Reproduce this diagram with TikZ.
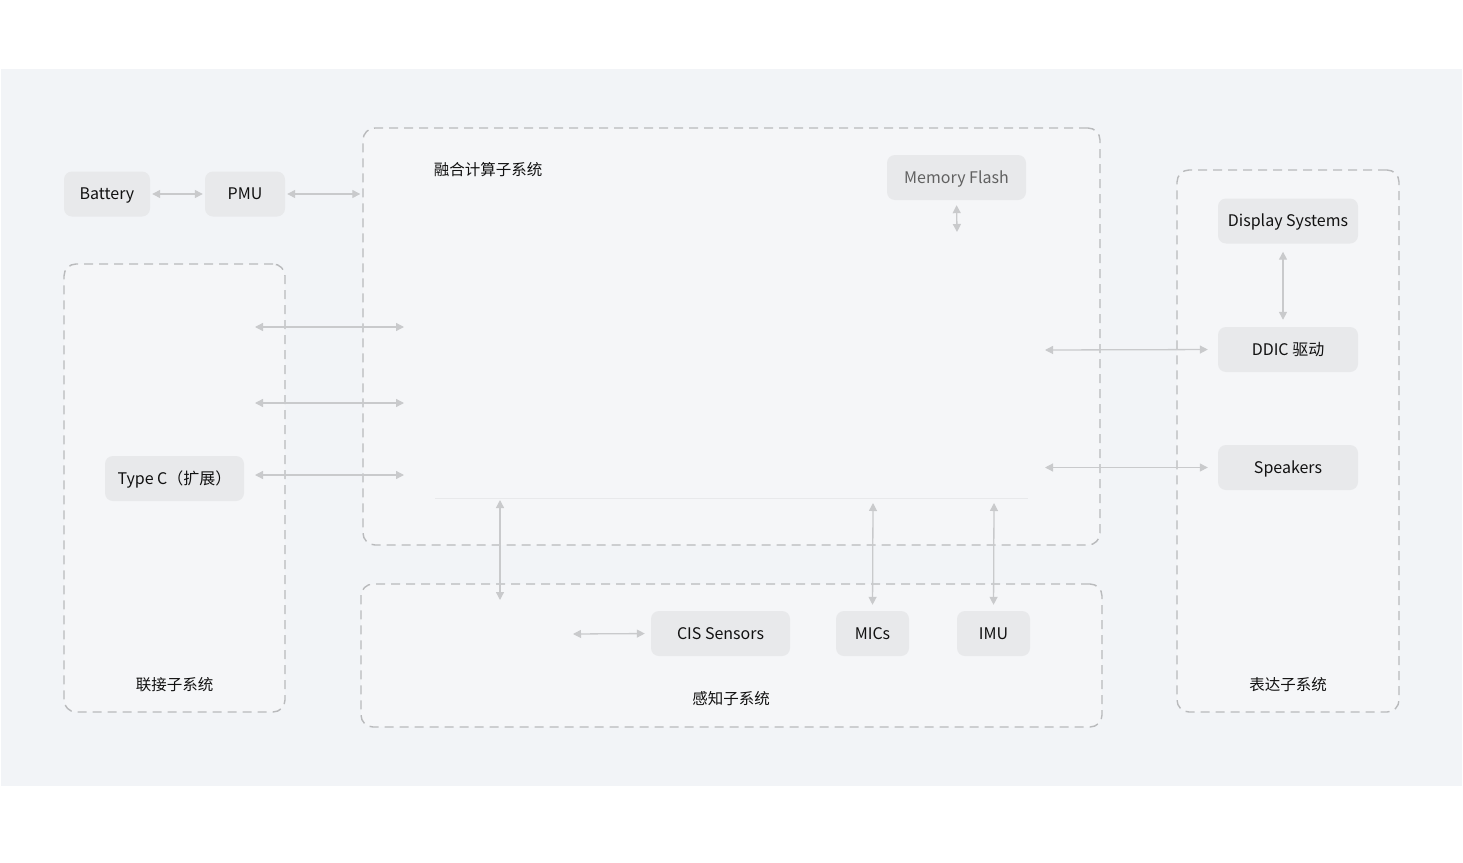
\documentclass[tikz,border=0pt]{standalone}
\usepackage{fontspec}
\setmainfont{Noto Sans CJK SC}
\usetikzlibrary{arrows.meta}
\definecolor{bgfill}{HTML}{F2F4F7}
\definecolor{groupfill}{HTML}{F5F6F8}
\definecolor{dashcol}{HTML}{B9BABC}
\definecolor{blockfill}{HTML}{E8E9EB}
\definecolor{arrcol}{HTML}{C9CACC}
\definecolor{txt}{HTML}{111111}
\tikzset{
  block/.style={fill=blockfill, rounded corners=8pt, minimum height=45pt, inner sep=0pt,
    text height=11.5pt, text depth=0pt, text=txt, font=\fontsize{16pt}{19pt}\selectfont},
  group/.style={draw=dashcol, fill=groupfill, dash pattern=on 9pt off 6pt, line width=1.4pt,
    rounded corners=12pt, inner sep=0pt},
  grouptitle/.style={text=txt, text height=11.5pt, text depth=0pt, inner sep=0pt,
    font=\fontsize{15.5pt}{19pt}\selectfont},
  link/.style={draw=arrcol, line width=1.3pt,
    {Triangle[width=8pt,length=8pt]}-{Triangle[width=8pt,length=8pt]}}
}
\begin{document}
\begin{tikzpicture}[x=1pt,y=-1pt]
    \useasboundingbox (0,0) rectangle (1463,862);
    \fill[bgfill] (1,69) rectangle (1462,786);
    % subsystems
    \node[group, minimum width=737pt, minimum height=417pt] (core) at (731.5,336.5) {};
    \node[group, minimum width=221pt, minimum height=448pt] (conn) at (174.5,488) {};
    \node[group, minimum width=222pt, minimum height=542pt] (expr) at (1288,441) {};
    \node[group, minimum width=741pt, minimum height=143pt] (sens) at (731.5,655.5) {};
    \node[grouptitle] (coretitle) at (488,169.5) {融合计算子系统};
    \node[grouptitle] (conntitle) at (174.5,684.5) {联接子系统};
    \node[grouptitle] (exprtitle) at (1288,684.5) {表达子系统};
    \node[grouptitle] (senstitle) at (731,698.5) {感知子系统};
    \draw[draw=blockfill, line width=1pt] (435,498) -- (1028,498);
    % blocks
    \node[block, minimum width=86pt] (bat) at (107,194) {Battery};
    \node[block, minimum width=80pt] (pmu) at (245,194) {PMU};
    \node[block, minimum width=139pt, text=black!62] (mem) at (956.5,177.5) {Memory Flash};
    \node[block, minimum width=139pt] (typec) at (174.5,478.5) {Type C（扩展）};
    \node[block, minimum width=140pt] (disp) at (1288,221) {Display Systems};
    \node[block, minimum width=140pt] (ddic) at (1288,349.5) {DDIC 驱动};
    \node[block, minimum width=140pt] (spk) at (1288,467.5) {Speakers};
    \node[block, minimum width=139pt] (cis) at (720.5,633.5) {CIS Sensors};
    \node[block, minimum width=73pt] (mics) at (872.5,633.5) {MICs};
    \node[block, minimum width=73pt] (imu) at (993.5,633.5) {IMU};
    % free ends
    \coordinate (memend) at (957,232);
    \coordinate (linka) at (255,327);
    \coordinate (linkb) at (404,327);
    \coordinate (linkc) at (255,403);
    \coordinate (linkd) at (404,403);
    \coordinate (linke) at (255,475);
    \coordinate (linkf) at (404,475);
    \coordinate (ddicend) at (1045,350);
    \coordinate (spkend) at (1045,467.5);
    \coordinate (cisend) at (573,634);
    \coordinate (upa) at (500,500);
    \coordinate (upb) at (500,600);
    \coordinate (micsend) at (873,503);
    \coordinate (imuend) at (994,503);
    % connectors
    \draw[link, shorten <=2pt, shorten >=2pt] (bat) -- (pmu);
    \draw[link, shorten <=2pt, shorten >=2pt] (pmu.east) -- (pmu.east -| core.west);
    \draw[link, shorten <=5pt] (mem.south) -- (memend);
    \draw[link] (linka) -- (linkb);
    \draw[link] (linkc) -- (linkd);
    \draw[link] (linke) -- (linkf);
    \draw[link, shorten <=8pt, shorten >=7pt] ([xshift=-5pt]disp.south) -- ([xshift=-5pt]ddic.north);
    \draw[link, shorten >=10pt] (ddicend) -- (ddic.west);
    \draw[link, shorten >=10pt] (spkend) -- (spk.west);
    \draw[link, shorten >=6pt] (cisend) -- (cis.west);
    \draw[link] (upa) -- (upb);
    \draw[link, shorten >=6pt] (micsend) -- (mics.north);
    \draw[link, shorten >=6pt] (imuend) -- (imu.north);
\end{tikzpicture}
\end{document}
